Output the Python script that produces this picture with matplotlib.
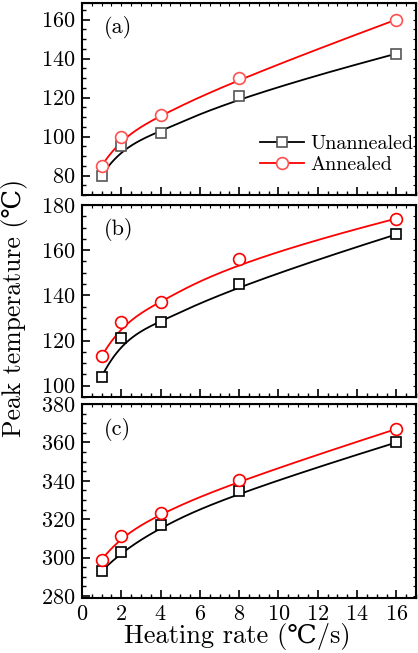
import numpy as np
import matplotlib
matplotlib.use("Agg")
import matplotlib.pyplot as plt
from matplotlib.ticker import MultipleLocator

plt.rcParams['font.family'] = ['cmr10', 'DejaVu Serif', 'DejaVu Sans']
plt.rcParams['axes.formatter.use_mathtext'] = True
plt.rcParams['mathtext.fontset'] = 'cm'

rate = [1, 2, 4, 8, 16]
# peak temperatures per panel
unann_a = [80, 95, 102, 121, 142.5]
ann_a = [85, 100, 111, 130, 160]
unann_b = [104, 121, 128, 145, 167]
ann_b = [113, 128, 137, 156, 174]
unann_c = [293, 303, 317, 334.5, 360]
ann_c = [299, 311.5, 323.5, 340.5, 367]
panel_tags = ['(a)', '(b)', '(c)']
ylims = [(70, 168.5), (95, 180), (279, 380)]
yticks = [[80, 100, 120, 140, 160], [100, 120, 140, 160, 180],
          [280, 300, 320, 340, 360, 380]]


def bspline(x, y, n=300, k=3):
    # clamped cubic B-spline with the data points as control points
    # (like Origin's "B-spline" line connection)
    P = np.column_stack([x, y]).astype(float)
    m = len(P)
    knots = np.concatenate([np.zeros(k), np.arange(m - k + 1), np.full(k, m - k)])
    knots = knots.astype(float)
    t = np.linspace(0, m - k, n)
    t[-1] -= 1e-9

    def basis(i, p, tt):
        if p == 0:
            return ((knots[i] <= tt) & (tt < knots[i + 1])).astype(float)
        out = np.zeros_like(tt)
        d1 = knots[i + p] - knots[i]
        d2 = knots[i + p + 1] - knots[i + 1]
        if d1 > 0:
            out += (tt - knots[i]) / d1 * basis(i, p - 1, tt)
        if d2 > 0:
            out += (knots[i + p + 1] - tt) / d2 * basis(i + 1, p - 1, tt)
        return out

    B = np.column_stack([basis(i, k, t) for i in range(m)])
    curve = B @ P
    return curve[:, 0], curve[:, 1]


fig = plt.figure(figsize=(4.18, 6.53), dpi=100)
boxes = [(3, 195), (205, 397), (404, 598)]
left, right = 82 / 418, 416 / 418
data = [(unann_a, ann_a), (unann_b, ann_b), (unann_c, ann_c)]

axes = []
for i, (top, bot) in enumerate(boxes):
    ax = fig.add_axes([left, 1 - bot / 653, right - left, (bot - top) / 653])
    axes.append(ax)
    u, a = data[i]
    xs, ys = bspline(rate, u)
    ax.plot(xs, ys, color='black', lw=1.3, zorder=2)
    ax.plot(rate, u, ls='none', marker='s', ms=7.5, mfc='white',
            mec='#555555' if i == 0 else 'black', mew=1.2, zorder=3)
    xs, ys = bspline(rate, a)
    ax.plot(xs, ys, color='red', lw=1.3, zorder=2)
    ax.plot(rate, a, ls='none', marker='o', ms=8.5, mfc='white',
            mec='#ff5050' if i == 0 else 'red', mew=1.2, zorder=3)
    ax.set_xlim(0, 17)
    ax.set_ylim(*ylims[i])
    ax.set_yticks(yticks[i])
    ax.xaxis.set_major_locator(MultipleLocator(2))
    ax.xaxis.set_minor_locator(MultipleLocator(0.5))
    ax.yaxis.set_minor_locator(MultipleLocator(5))
    ax.tick_params(which='major', direction='in', length=5.5, width=1.2,
                   labelsize=16, pad=5)
    ax.tick_params(which='minor', direction='in', length=3, width=1.0)
    for sp in ax.spines.values():
        sp.set_linewidth(1.5)
    # tiny mirrored ticks on top / right
    sx = ax.secondary_xaxis('top')
    sx.xaxis.set_major_locator(MultipleLocator(2))
    sx.xaxis.set_minor_locator(MultipleLocator(0.5))
    sx.tick_params(which='both', direction='in', length=2, width=0.8,
                   labeltop=False)
    sy = ax.secondary_yaxis('right')
    sy.set_yticks(yticks[i])
    sy.yaxis.set_minor_locator(MultipleLocator(5))
    sy.tick_params(which='both', direction='in', length=2, width=0.8,
                   labelright=False)
    ax.text(0.065, 0.87, panel_tags[i], transform=ax.transAxes, fontsize=16,
            va='center', ha='left')
    if i < 2:
        ax.tick_params(labelbottom=False)

axes[2].set_xticks([0, 2, 4, 6, 8, 10, 12, 14, 16])

# legend in panel (a)
h1, = axes[0].plot([], [], color='black', lw=1.3, marker='s', ms=7.5,
                   mfc='white', mec='#555555', mew=1.2)
h2, = axes[0].plot([], [], color='red', lw=1.3, marker='o', ms=8.5,
                   mfc='white', mec='#ff5050', mew=1.2)
axes[0].legend([h1, h2], ['Unannealed', 'Annealed'], loc='lower right',
               bbox_to_anchor=(1.035, 0.035), frameon=False, fontsize=14.5,
               handlelength=2.2, handletextpad=0.3, labelspacing=0.15,
               borderpad=0.2)

fig.text(237 / 418, 1 - 637 / 653, 'Heating rate (\u2103/s)', ha='center',
         va='center', fontsize=19)
fig.text(15 / 418, 1 - 308 / 653, 'Peak temperature (\u2103)', rotation=90,
         ha='center', va='center', fontsize=18.5)

fig.savefig('out.png', dpi=100)
